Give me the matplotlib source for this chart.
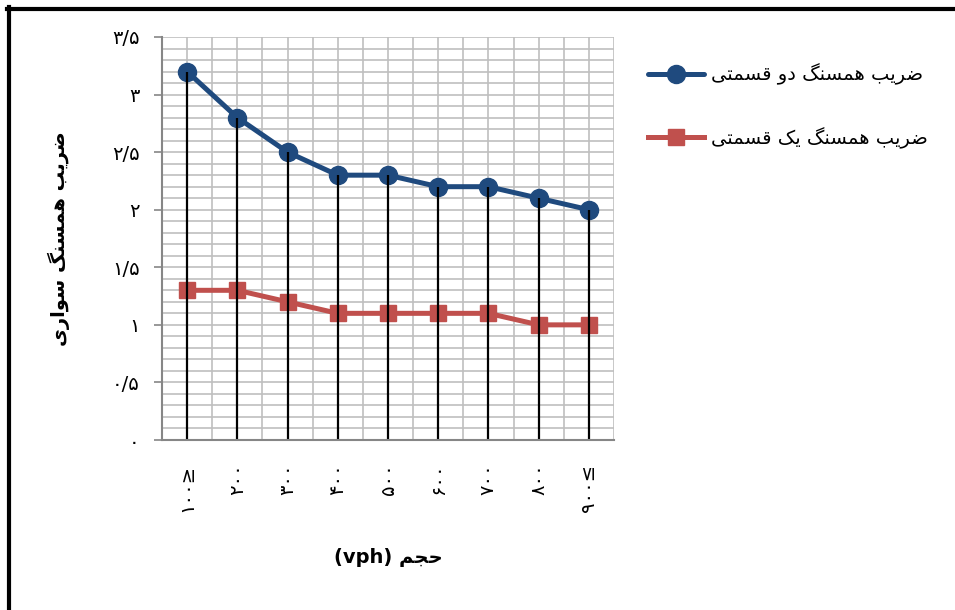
import matplotlib
matplotlib.use("Agg")
import matplotlib.pyplot as plt
from matplotlib.lines import Line2D
from matplotlib.ticker import MultipleLocator

# category labels (display order, read bottom-to-top when rotated)
categories = ["۱۰۰≥", "۲۰۰", "۳۰۰", "۴۰۰", "۵۰۰", "۶۰۰", "۷۰۰", "۸۰۰", "۹۰۰≤"]
two_part = [3.2, 2.8, 2.5, 2.3, 2.3, 2.2, 2.2, 2.1, 2.0]
one_part = [1.3, 1.3, 1.2, 1.1, 1.1, 1.1, 1.1, 1.0, 1.0]
y_ticks = [0, 0.5, 1, 1.5, 2, 2.5, 3, 3.5]
y_tick_labels = ["۰", "۰/۵", "۱", "۱/۵", "۲", "۲/۵", "۳", "۳/۵"]

label_two = "ضریب همسنگ دو قسمتی"
label_one = "ضریب همسنگ یک قسمتی"
y_title = "ضریب همسنگ سواری"
x_title = "حجم"

# presentation forms: (isolated, final, initial, medial) or (isolated, final)
FORMS = {
    "ض": "\uFEBD\uFEBE\uFEBF\uFEC0",
    "ر": "\uFEAD\uFEAE",
    "ی": "\uFBFC\uFBFD\uFBFE\uFBFF",
    "ب": "\uFE8F\uFE90\uFE91\uFE92",
    "ه": "\uFEE9\uFEEA\uFEEB\uFEEC",
    "م": "\uFEE1\uFEE2\uFEE3\uFEE4",
    "س": "\uFEB1\uFEB2\uFEB3\uFEB4",
    "ن": "\uFEE5\uFEE6\uFEE7\uFEE8",
    "گ": "\uFB92\uFB93\uFB94\uFB95",
    "د": "\uFEA9\uFEAA",
    "و": "\uFEED\uFEEE",
    "ق": "\uFED5\uFED6\uFED7\uFED8",
    "ت": "\uFE95\uFE96\uFE97\uFE98",
    "ک": "\uFB8E\uFB8F\uFB90\uFB91",
    "ا": "\uFE8D\uFE8E",
    "ح": "\uFEA1\uFEA2\uFEA3\uFEA4",
    "ج": "\uFE9D\uFE9E\uFE9F\uFEA0",
}


def shape(text):
    out = []
    for i, ch in enumerate(text):
        if ch not in FORMS:
            out.append(ch)
            continue
        prev = text[i - 1] if i > 0 else None
        nxt = text[i + 1] if i + 1 < len(text) else None
        join_prev = prev in FORMS and len(FORMS[prev]) == 4
        join_next = len(FORMS[ch]) == 4 and nxt in FORMS
        f = FORMS[ch]
        if join_prev and join_next:
            out.append(f[3])
        elif join_prev:
            out.append(f[1])
        elif join_next:
            out.append(f[2])
        else:
            out.append(f[0])
    return "".join(out)[::-1]


plt.rcParams["font.family"] = ["DejaVu Sans"]

fig = plt.figure(figsize=(9.55, 6.10), dpi=100)
ax = fig.add_axes([162 / 955, 1 - 440 / 610, 452 / 955, 403 / 610])

x = list(range(len(categories)))
ax.plot(x, two_part, color="#1F4A7E", lw=3.6, marker="o", ms=13,
        label=shape(label_two), zorder=3, solid_capstyle="round")
ax.plot(x, one_part, color="#C0504D", lw=3.6, marker="s", ms=11.5,
        label=shape(label_one), zorder=3)
# drop lines from the upper series to the axis
ax.vlines(x, 0, two_part, color="black", lw=1.6, zorder=5)

ax.set_xlim(-0.5, len(categories) - 0.5)
ax.set_ylim(0, 3.5)

# grid: half-category verticals, 0.1 horizontals
ax.xaxis.set_minor_locator(MultipleLocator(0.5))
ax.yaxis.set_minor_locator(MultipleLocator(0.1))
ax.grid(which="both", color="#BFBFBF", lw=1.2, zorder=0)
ax.set_axisbelow(True)

ax.set_yticks(y_ticks)
ax.set_yticklabels(y_tick_labels, fontsize=14)
ax.set_xticks(x)
ax.set_xticklabels(categories, rotation=90, fontsize=14, va="top")
ax.tick_params(axis="x", which="both", length=0, pad=17)
ax.tick_params(axis="y", which="major", length=6, width=1.2, color="#868686", pad=10)
ax.tick_params(axis="y", which="minor", length=0)

for side in ("top", "right"):
    ax.spines[side].set_visible(False)
for side in ("left", "bottom"):
    ax.spines[side].set_color("#868686")
    ax.spines[side].set_linewidth(1.5)
    ax.spines[side].set_zorder(6)

ax.set_ylabel(shape(y_title), fontsize=14, fontweight="bold", labelpad=30)
ax.set_xlabel("(vph) " + shape(x_title), fontsize=14, fontweight="bold", labelpad=26)

fig.legend(loc="upper left", bbox_to_anchor=(630 / 955, 1 - 46 / 610),
           frameon=False, fontsize=14, handlelength=2.9, labelspacing=2.15,
           handletextpad=0.35)

# outer frame (top and left edges)
fig.add_artist(Line2D([7 / 955, 1], [1 - 9 / 610] * 2, color="black", lw=3))
fig.add_artist(Line2D([9 / 955] * 2, [0, 1 - 7 / 610], color="black", lw=3))

fig.savefig("out.png", dpi=100)
